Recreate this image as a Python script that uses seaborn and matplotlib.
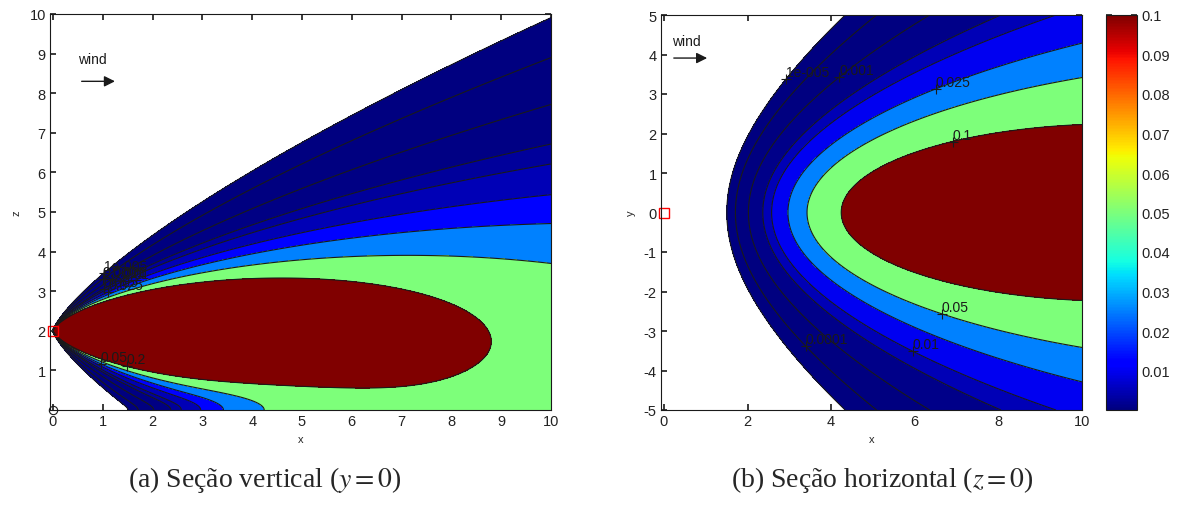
import numpy as np
import matplotlib
matplotlib.use('Agg')
import matplotlib.pyplot as plt
import seaborn as sns
from matplotlib.colors import Normalize
from matplotlib.cm import ScalarMappable

sns.set_theme(style='white')
plt.rcParams['font.family'] = ['Liberation Sans', 'DejaVu Sans']
plt.rcParams['mathtext.fontset'] = 'stix'
plt.rcParams['axes.unicode_minus'] = False

# contour levels of the two sections
levels_vert = [1e-5, 1e-4, 1e-3, 0.005, 0.01, 0.025, 0.05, 0.1, 0.2]
levels_horiz = [1e-5, 1e-4, 1e-3, 0.005, 0.01, 0.025, 0.05, 0.1]
level_text = {1e-5: '1e-005', 1e-4: '0.0001', 1e-3: '0.001', 0.005: '0.005', 0.01: '0.01',
              0.025: '0.025', 0.05: '0.05', 0.1: '0.1', 0.2: '0.2'}
cbar_ticks = [0.01, 0.02, 0.03, 0.04, 0.05, 0.06, 0.07, 0.08, 0.09, 0.1]
cbar_labels = ['0.01', '0.02', '0.03', '0.04', '0.05', '0.06', '0.07', '0.08', '0.09', '0.1']

# gaussian plume (with ground reflection), parameters matched to the contours of the picture
source_height = 2.0
sigma_z_coef, sigma_z_exp = 0.2782, 0.8110
sigma_y_coef, sigma_y_exp = 0.3784, 0.7646
log_strength = -0.49

# where the contour labels sit
label_pos_vert = [(0.95, 3.55), (1.0, 3.3), (1.2, 3.3), (1.4, 3.25), (1.0, 3.1), (1.1, 3.0),
                  (0.95, 1.15), (1.5, 1.2)]
label_pos_horiz = [(2.97, 3.33), (4.23, 3.38), (6.48, 3.17), (6.9, 1.81), (6.65, -2.57),
                   (5.96, -3.5), (3.45, -3.33)]


def conc(x, y, z):
    sz = sigma_z_coef * x ** sigma_z_exp
    sy = sigma_y_coef * x ** sigma_y_exp
    a = -(z - source_height) ** 2 / (2 * sz ** 2)
    b = -(z + source_height) ** 2 / (2 * sz ** 2)
    return np.exp(log_strength - np.log(sy * sz) - y ** 2 / (2 * sy ** 2) + np.logaddexp(a, b))


fig = plt.figure(figsize=(11.81, 5.10), dpi=100)
ax1 = fig.add_axes([50 / 1181, 99 / 510, 501 / 1181, 396 / 510])
ax2 = fig.add_axes([661 / 1181, 99 / 510, 421 / 1181, 395 / 510])
cax = fig.add_axes([1106 / 1181, 99 / 510, 31 / 1181, 395 / 510])
cmap = plt.get_cmap('jet')


def draw(ax, X, Y, C, levels, vmax, manual):
    # matlab-like contourf: each band takes the colour of its lower level
    norm = Normalize(0, vmax)
    colors = [cmap(norm(l)) for l in levels]
    ax.contourf(X, Y, C, levels=levels + [C.max() * 2], colors=colors)
    cs = ax.contour(X, Y, C, levels=levels, colors='k', linewidths=0.8)
    texts = ax.clabel(cs, inline=False, fmt=level_text, manual=manual, fontsize=10, colors='k')
    for t in texts:
        x0, y0 = t.get_position()
        t.set_rotation(0)
        t.set_ha('left')
        t.set_va('bottom')
        ax.plot(x0, y0, '+', color='k', ms=7, mew=0.8)


xv = np.linspace(1e-3, 10, 800)
zv = np.linspace(0, 10, 601)
XV, ZV = np.meshgrid(xv, zv)
draw(ax1, XV, ZV, conc(XV, 0.0, ZV), levels_vert, 0.2, label_pos_vert)

xh = np.linspace(1e-3, 10, 800)
yh = np.linspace(-5, 5, 601)
XH, YH = np.meshgrid(xh, yh)
draw(ax2, XH, YH, conc(XH, YH, 0.0), levels_horiz, 0.1, label_pos_horiz)

ax1.set_xlim(-0.06, 10)
ax1.set_ylim(0, 10)
ax1.set_xticks(range(0, 11))
ax1.set_yticks(range(1, 11))
ax2.set_xlim(-0.07, 10)
ax2.set_ylim(-5, 5)
ax2.set_xticks(range(0, 11, 2))
ax2.set_yticks(range(-5, 6))

ax1.plot(0, source_height, 's', mfc='none', mec='red', ms=7, mew=1, clip_on=False)
ax1.plot(0, 0, 'o', mfc='none', mec='k', ms=6, mew=0.8, clip_on=False)
ax2.plot(0, 0, 's', mfc='white', mec='red', ms=7, mew=1, clip_on=False)

for ax, (tx, ty), (x0, x1, ya) in [(ax1, (0.5, 8.75), (0.52, 1.3, 8.3)),
                                   (ax2, (0.19, 4.25), (0.17, 1.1, 3.91))]:
    ax.text(tx, ty, 'wind', fontsize=10, color='k')
    ax.annotate('', xy=(x1, ya), xytext=(x0, ya),
                arrowprops=dict(arrowstyle='-|>', color='k', lw=1, mutation_scale=16))

for ax, lab in [(ax1, 'z'), (ax2, 'y')]:
    ax.set_xlabel('x', fontsize=8, labelpad=4)
    ax.set_ylabel(lab, fontsize=8, labelpad=6)
    ax.tick_params(direction='in', length=4, top=True, right=True, bottom=True, left=True,
                   labelsize=10.5, colors='#222222', pad=3)
    for sp in ax.spines.values():
        sp.set_color('k')
        sp.set_linewidth(0.8)

cb = fig.colorbar(ScalarMappable(norm=Normalize(0, 0.1), cmap=cmap), cax=cax, ticks=cbar_ticks)
cb.ax.set_yticklabels(cbar_labels)
cax.tick_params(direction='in', length=4, left=True, right=True, labelsize=10.5, colors='#222222')
cb.outline.set_edgecolor('k')
cb.outline.set_linewidth(0.8)

fig.text(265 / 1181, 30 / 510, '(a) Seção vertical ($y = 0$)', family='Liberation Serif',
         fontsize=20, ha='center', va='center')
fig.text(882 / 1181, 30 / 510, '(b) Seção horizontal ($z = 0$)', family='Liberation Serif',
         fontsize=20, ha='center', va='center')

fig.savefig('out.png', dpi=100)
